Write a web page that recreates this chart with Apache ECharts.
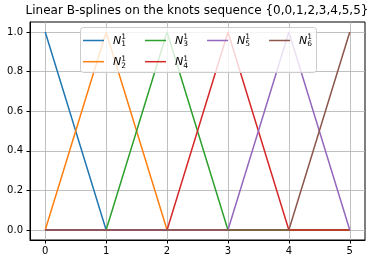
<!DOCTYPE html>
<html>
<head>
<meta charset="utf-8">
<script src="https://cdn.jsdelivr.net/npm/echarts@6/dist/echarts.min.js"></script>
<style>
html,body{margin:0;padding:0;background:#fff;}
#chart{width:376px;height:264px;}
</style>
</head>
<body>
<div id="chart"></div>
<script>
// Data
var knots = [0, 1, 2, 3, 4, 5];
var N1 = [1, 0, 0, 0, 0, 0];
var N2 = [0, 1, 0, 0, 0, 0];
var N3 = [0, 0, 1, 0, 0, 0];
var N4 = [0, 0, 0, 1, 0, 0];
var N5 = [0, 0, 0, 0, 1, 0];
var N6 = [0, 0, 0, 0, 0, 1];
var seriesNames = ['N1', 'N2', 'N3', 'N4', 'N5', 'N6'];
var seriesValues = [N1, N2, N3, N4, N5, N6];
var xTicks = [0, 1, 2, 3, 4, 5];
var yTicks = [0, 0.2, 0.4, 0.6, 0.8, 1.0];
var titleText = 'Linear B-splines on the knots sequence {0,0,1,2,3,4,5,5}';

var colors = ['#1f77b4', '#ff7f0e', '#2ca02c', '#d62728', '#9467bd', '#8c564b'];
var FONT = 'DejaVu Sans';

var chart = echarts.init(document.getElementById('chart'), null, {renderer: 'canvas'});

var series = seriesNames.map(function (name, i) {
  return {
    name: name,
    type: 'line',
    symbol: 'none',
    showSymbol: false,
    z: 2,
    lineStyle: {width: 1.5, color: colors[i]},
    itemStyle: {color: colors[i]},
    data: knots.map(function (x, k) { return [x, seriesValues[i][k]]; }),
    animation: false
  };
});

var richLabel = {
  sp: {width: 12.2, fontSize: 7, lineHeight: 1, fontFamily: FONT},
  sup: {fontSize: 7.5, lineHeight: 1, fontFamily: FONT, color: '#000'},
  n: {fontSize: 11, lineHeight: 6, fontStyle: 'italic', fontFamily: FONT, color: '#000', padding: [0, 0, 0, 4]},
  sub: {width: 17.8, fontSize: 7.5, lineHeight: 6, fontFamily: FONT, color: '#000', padding: [7, 0, 0, 0]}
};
function legendFmt(name) {
  var idx = name.slice(1);
  return '{sp| }{sup|1}\n{n|N}{sub|' + idx + '}';
}
function makeLegend(data, top) {
  return {
    show: true,
    data: data,
    left: 83,
    top: top,
    orient: 'horizontal',
    padding: 0,
    icon: 'rect',
    itemWidth: 21,
    itemHeight: 1.5,
    itemGap: 6,
    selectedMode: false,
    z: 10,
    formatter: legendFmt,
    textStyle: {fontFamily: FONT, color: '#000', rich: richLabel}
  };
}

chart.setOption({
  animation: false,
  backgroundColor: '#fff',
  title: {
    text: titleText,
    left: 197,
    textAlign: 'center',
    top: 5,
    padding: 0,
    textStyle: {fontFamily: FONT, fontSize: 12, fontWeight: 'normal', color: '#000'}
  },
  grid: {
    left: 30, right: 11, top: 22, bottom: 24,
    show: true, borderColor: '#000', borderWidth: 1, backgroundColor: 'transparent'
  },
  graphic: [{
    type: 'rect',
    z: 9,
    shape: {x: 80.5, y: 27.5, width: 236, height: 45, r: 3},
    style: {fill: 'rgba(255,255,255,0.8)', stroke: '#cccccc', lineWidth: 1}
  }],
  legend: [
    makeLegend(['N1', 'N3', 'N5', 'N6'], 33.5),
    makeLegend(['N2', 'N4'], 54.7)
  ],
  xAxis: {
    type: 'value',
    min: -0.25, max: 5.25,
    axisLine: {show: true, onZero: false, lineStyle: {color: '#000', width: 1}},
    axisTick: {show: true, inside: false, length: 3.5, customValues: xTicks, lineStyle: {color: '#000', width: 1}},
    axisLabel: {show: true, margin: 6, customValues: xTicks, formatter: function (v) { return String(Math.round(v)); }, fontFamily: FONT, fontSize: 10, color: '#000'},
    splitLine: {show: true, lineStyle: {color: '#b0b0b0', width: 0.8}}
  },
  yAxis: {
    type: 'value',
    min: -0.05, max: 1.05,
    axisLine: {show: true, onZero: false, lineStyle: {color: '#000', width: 1}},
    axisTick: {show: true, inside: false, length: 3.5, customValues: yTicks, lineStyle: {color: '#000', width: 1}},
    axisLabel: {show: true, margin: 7, customValues: yTicks, formatter: function (v) { return v.toFixed(1); }, fontFamily: FONT, fontSize: 10, color: '#000'},
    splitLine: {show: true, lineStyle: {color: '#b0b0b0', width: 0.8}}
  },
  series: series
});
</script>
</body>
</html>
